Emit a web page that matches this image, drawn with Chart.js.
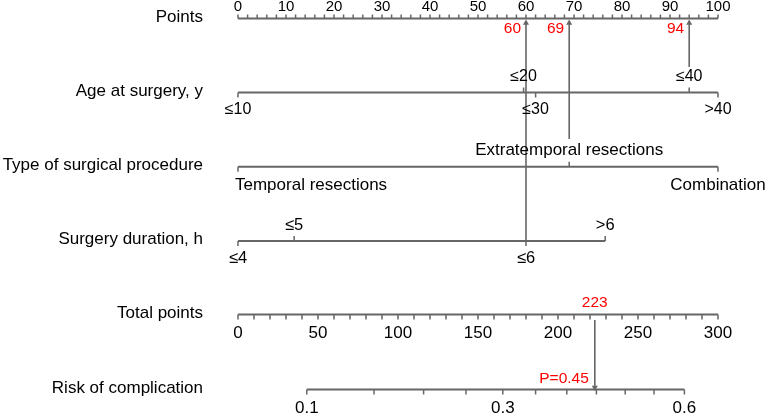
<!DOCTYPE html>
<html>
<head>
<meta charset="utf-8">
<script src="https://cdn.jsdelivr.net/npm/chart.js@4.4.1/dist/chart.umd.min.js"></script>
<style>
  html, body { margin: 0; padding: 0; background: #fff; }
  #wrap { width: 765px; height: 416px; }
</style>
</head>
<body>
<div id="wrap"><canvas id="nomogram" width="765" height="416"></canvas></div>
<script>
// row titles down the left
var rowTitles = ['Points', 'Age at surgery, y', 'Type of surgical procedure',
  'Surgery duration, h', 'Total points', 'Risk of complication'];

// points scale (0-100)
var pointsLabels = [0, 10, 20, 30, 40, 50, 60, 70, 80, 90, 100];
var pointsMinor = [0, 2, 4, 6, 8, 10, 12, 14, 16, 18, 20, 22, 24, 26, 28, 30, 32, 34, 36, 38, 40,
  42, 44, 46, 48, 50, 52, 54, 56, 58, 60, 62, 64, 66, 68, 70, 72, 74, 76, 78, 80,
  82, 84, 86, 88, 90, 92, 94, 96, 98, 100];

// predictors: label, points, label side
var ageLabels = ['≤10', '≤20', '≤30', '≤40', '>40'];
var agePoints = [0, 59.5, 62, 94, 100];
var ageSide = ['below', 'above', 'below', 'above', 'below'];

var typeLabels = ['Temporal resections', 'Extratemporal resections', 'Combination'];
var typePoints = [0, 69, 100];
var typeSide = ['below', 'above', 'below'];

var durLabels = ['≤4', '≤5', '≤6', '>6'];
var durPoints = [0, 11.7, 60, 76.5];
var durSide = ['below', 'above', 'below', 'above'];

// total points scale (0-300)
var totalLabels = [0, 50, 100, 150, 200, 250, 300];
var totalMinor = [0, 10, 20, 30, 40, 50, 60, 70, 80, 90, 100, 110, 120, 130, 140, 150,
  160, 170, 180, 190, 200, 210, 220, 230, 240, 250, 260, 270, 280, 290, 300];

// risk scale: probability and where it sits on total points
var riskTicks = [0.1, 0.15, 0.2, 0.25, 0.3, 0.35, 0.4, 0.45, 0.5, 0.55, 0.6];
var riskTotal = [43, 85, 116, 142.5, 165.5, 186, 205.5, 224, 242, 260, 279];
var riskShown = ['0.1', '', '', '', '0.3', '', '', '', '', '', '0.6'];

// worked example
var examplePoints = [94, 69, 60];
var exampleTotal = 223;
var exampleRisk = 'P=0.45';

// layout (pixels on the y scale)
var rowY = [18.5, 92.5, 166.7, 241, 314.5, 389.5];
var GREY = '#666666';
var RED = '#ff0000';
var FONT = '"Liberation Sans", Arial, sans-serif';

function axisLine(axisId, from, to, y) {
  return {
    type: 'line', xAxisID: axisId,
    data: [{ x: from, y: y }, { x: to, y: y }],
    borderColor: GREY, borderWidth: 2, pointRadius: 0, showLine: true
  };
}

// tick marks as short vertical line points; dir -1 goes up, +1 goes down
function tickMarks(axisId, values, y, dirs, len) {
  return {
    type: 'scatter', xAxisID: axisId,
    data: values.map(function (v, i) {
      var d = Array.isArray(dirs) ? dirs[i] : dirs;
      return { x: v, y: y + d * len / 2 };
    }),
    pointStyle: 'line', rotation: 90, radius: len / 2,
    borderColor: GREY, borderWidth: 1.5, pointHoverRadius: 0
  };
}

function sideDir(sides) {
  return sides.map(function (s) { return s === 'above' ? -1 : 1; });
}

function arrow(axisId, x, yFrom, yTo, up) {
  return {
    type: 'line', xAxisID: axisId,
    data: [{ x: x, y: yFrom }, { x: x, y: yTo }],
    borderColor: GREY, borderWidth: 1.6, showLine: true,
    pointStyle: 'triangle', pointRadius: [0, 3.5], rotation: up ? 0 : 180,
    pointBackgroundColor: GREY, pointBorderColor: GREY, pointBorderWidth: 0
  };
}

var datasets = [
  axisLine('x', 0, 100, rowY[0]),
  tickMarks('x', pointsMinor, rowY[0], -1, 4),
  axisLine('x', 0, 100, rowY[1]),
  tickMarks('x', agePoints, rowY[1], sideDir(ageSide), 5),
  axisLine('x', 0, 100, rowY[2]),
  tickMarks('x', typePoints, rowY[2], sideDir(typeSide), 5),
  axisLine('x', durPoints[0], durPoints[durPoints.length - 1], rowY[3]),
  tickMarks('x', durPoints, rowY[3], sideDir(durSide), 5),
  axisLine('xt', 0, 300, rowY[4]),
  tickMarks('xt', totalMinor, rowY[4], 1, 5),
  axisLine('xt', riskTotal[0], riskTotal[riskTotal.length - 1], rowY[5]),
  tickMarks('xt', riskTotal, rowY[5], 1, 5),
  arrow('x', examplePoints[0], 67, 23, true),
  arrow('x', examplePoints[1], 139, 23, true),
  arrow('x', examplePoints[2], rowY[3], 23, true),
  arrow('xt', exampleTotal, 320, rowY[5] - 2, false)
];

function put(ctx, text, x, y, size, color, align) {
  ctx.font = size + 'px ' + FONT;
  ctx.fillStyle = color;
  ctx.textAlign = align || 'center';
  ctx.textBaseline = 'middle';
  ctx.fillText(text, x, y);
}

var nomoText = {
  id: 'nomoText',
  afterDatasetsDraw: function (chart) {
    var ctx = chart.ctx;
    var xs = chart.scales.x, xt = chart.scales.xt, ys = chart.scales.y;
    var py = function (v) { return ys.getPixelForValue(v); };
    ctx.save();

    rowTitles.forEach(function (t, i) {
      put(ctx, t, 203, py(rowY[i]) - 1.5, 17, '#000', 'right');
    });

    pointsLabels.forEach(function (v) {
      put(ctx, String(v), xs.getPixelForValue(v), py(rowY[0]) - 11.5, 15, '#000');
    });

    ageLabels.forEach(function (t, i) {
      var off = ageSide[i] === 'above' ? -15.5 : 17;
      put(ctx, t, xs.getPixelForValue(agePoints[i]), py(rowY[1]) + off, 16, '#000');
    });

    typeLabels.forEach(function (t, i) {
      var off = typeSide[i] === 'above' ? -16.5 : 19;
      var x = xs.getPixelForValue(typePoints[i]);
      put(ctx, t, i === 0 ? x - 3 : x, py(rowY[2]) + off, 17, '#000', i === 0 ? 'left' : 'center');
    });

    durLabels.forEach(function (t, i) {
      var off = durSide[i] === 'above' ? -16 : 17;
      put(ctx, t, xs.getPixelForValue(durPoints[i]), py(rowY[3]) + off, 16.5, '#000');
    });

    totalLabels.forEach(function (v) {
      put(ctx, String(v), xt.getPixelForValue(v), py(rowY[4]) + 19, 17, '#000');
    });

    riskShown.forEach(function (t, i) {
      if (t) put(ctx, t, xt.getPixelForValue(riskTotal[i]), py(rowY[5]) + 19, 17, '#000');
    });

    // red example values
    examplePoints.forEach(function (v) {
      put(ctx, String(v), xs.getPixelForValue(v) - 5, py(rowY[0]) + 10.5, 15.5, RED, 'right');
    });
    put(ctx, String(exampleTotal), xt.getPixelForValue(exampleTotal), py(rowY[4]) - 11.5, 15.5, RED);
    put(ctx, exampleRisk, xt.getPixelForValue(exampleTotal) - 6, py(rowY[5]) - 10.5, 15.5, RED, 'right');

    ctx.restore();
  }
};

var chart = new Chart(document.getElementById('nomogram'), {
  type: 'scatter',
  data: { datasets: datasets },
  options: {
    responsive: false,
    animation: false,
    devicePixelRatio: 1,
    layout: { padding: 0, autoPadding: false },
    plugins: { legend: { display: false }, tooltip: { enabled: false }, title: { display: false } },
    events: [],
    scales: {
      // 0 points at x=238, 100 points at x=718
      x: { type: 'linear', display: false, min: -238 / 4.8, max: (765 - 238) / 4.8 },
      xt: { type: 'linear', display: false, min: -238 / 1.6, max: (765 - 238) / 1.6 },
      y: { type: 'linear', display: false, min: 0, max: 416, reverse: true }
    }
  },
  plugins: [nomoText]
});
</script>
</body>
</html>
